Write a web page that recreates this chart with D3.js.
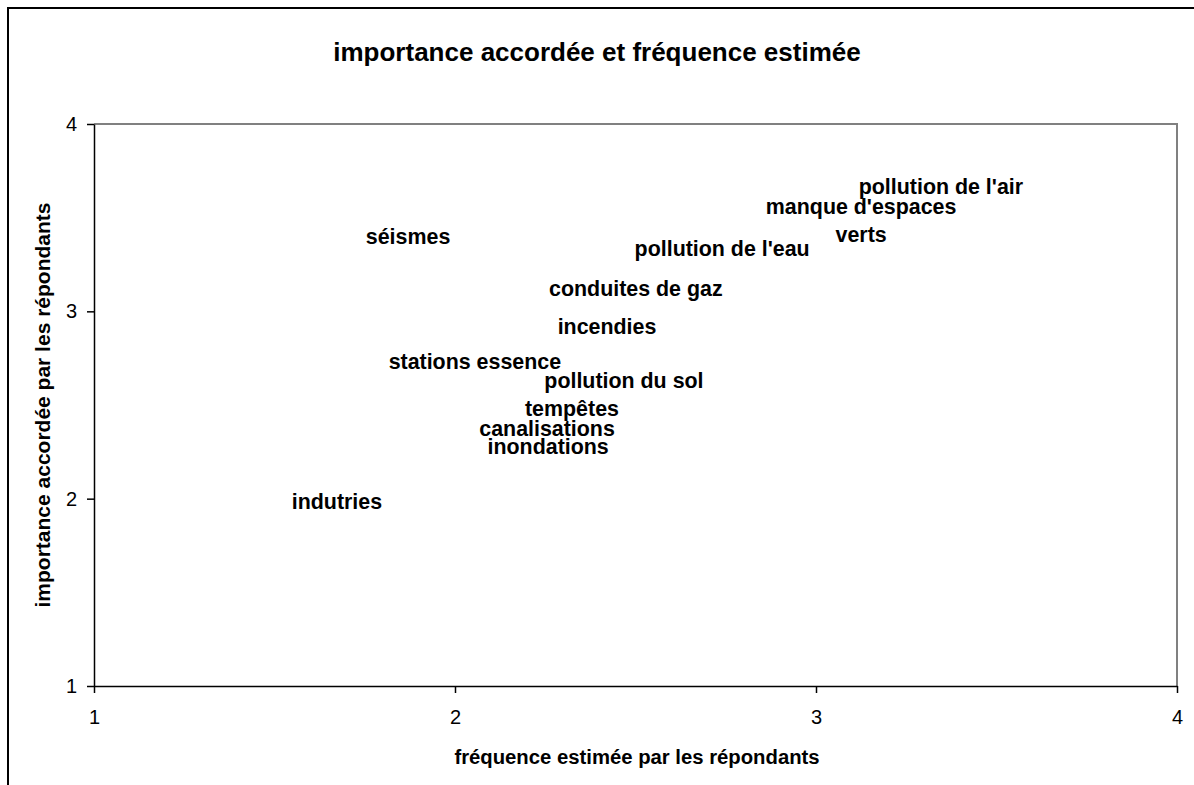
<!DOCTYPE html>
<html>
<head>
<meta charset="utf-8">
<script src="https://cdn.jsdelivr.net/npm/d3@7"></script>
<style>
  html, body { margin: 0; padding: 0; background: #fff; }
  svg { display: block; font-family: "Liberation Sans", Arial, sans-serif; }
</style>
</head>
<body>
<svg id="chart" width="1194" height="785"></svg>
<script>
// Risk labels with estimated frequency (x) and importance (y)
const risks = ["pollution de l'air", "manque d'espaces\nverts", "séismes", "pollution de l'eau",
  "conduites de gaz", "incendies", "stations essence", "pollution du sol",
  "tempêtes", "canalisations", "inondations", "indutries"];
const frequency = [3.346, 3.125, 1.870, 2.740, 2.501, 2.421, 2.055, 2.468, 2.324, 2.255, 2.258, 1.673];
const importance = [3.664, 3.482, 3.397, 3.333, 3.119, 2.916, 2.730, 2.628, 2.479, 2.372, 2.276, 1.982];
const xTicks = [1, 2, 3, 4];
const yTicks = [1, 2, 3, 4];

const chartTitle = "importance accordée et fréquence estimée";
const xTitle = "fréquence estimée par les répondants";
const yTitle = "importance accordée par les répondants";

const svg = d3.select("#chart");
const plot = { left: 94, right: 1177, top: 124, bottom: 686 };

const x = d3.scaleLinear().domain([1, 4]).range([plot.left, plot.right]);
const y = d3.scaleLinear().domain([1, 4]).range([plot.bottom, plot.top]);

// outer chart border (runs off the right and bottom edges)
svg.append("rect")
  .attr("x", 8).attr("y", 8).attr("width", 1210).attr("height", 800)
  .attr("fill", "none").attr("stroke", "#000").attr("stroke-width", 2);

// plot area frame: grey top and right edges
svg.append("path")
  .attr("d", `M${plot.left},${plot.top}H${plot.right}V${plot.bottom}`)
  .attr("fill", "none").attr("stroke", "#808080").attr("stroke-width", 2);

// axes
const xAxis = svg.append("g")
  .attr("transform", `translate(0,${plot.bottom})`)
  .call(d3.axisBottom(x).tickValues(xTicks).tickFormat(d3.format("d")).tickSize(7).tickSizeOuter(0).tickPadding(17));
const yAxis = svg.append("g")
  .attr("transform", `translate(${plot.left},0)`)
  .call(d3.axisLeft(y).tickValues(yTicks).tickFormat(d3.format("d")).tickSize(7).tickSizeOuter(0).tickPadding(10));

[xAxis, yAxis].forEach(g => {
  g.select(".domain").attr("stroke", "#000").attr("stroke-width", 1.5);
  g.selectAll(".tick line").attr("stroke", "#000").attr("stroke-width", 1.5);
  g.selectAll(".tick text")
    .attr("fill", "#000")
    .style("font-family", "'Liberation Sans', Arial, sans-serif")
    .style("font-size", "20px");
});

// title
svg.append("text")
  .attr("x", 597).attr("y", 61)
  .attr("text-anchor", "middle")
  .style("font-size", "26px").style("font-weight", "bold")
  .text(chartTitle);

// axis titles
svg.append("text")
  .attr("x", 637).attr("y", 764)
  .attr("text-anchor", "middle")
  .style("font-size", "20.3px").style("font-weight", "bold")
  .text(xTitle);

svg.append("text")
  .attr("transform", `translate(50,${(plot.top + plot.bottom) / 2}) rotate(-90)`)
  .attr("text-anchor", "middle")
  .style("font-size", "21px").style("font-weight", "bold")
  .text(yTitle);

// data labels, centred on each point
const labels = svg.append("g")
  .style("font-size", "21.4px").style("font-weight", "bold");

risks.forEach((name, i) => {
  const lines = name.split("\n");
  const lineGap = 28;
  const t = labels.append("text")
    .attr("x", x(frequency[i]))
    .attr("y", y(importance[i]))
    .attr("text-anchor", "middle")
    .attr("dominant-baseline", "central");
  lines.forEach((line, j) => {
    t.append("tspan")
      .attr("x", x(frequency[i]))
      .attr("y", y(importance[i]) + (j - (lines.length - 1) / 2) * lineGap)
      .text(line);
  });
});
</script>
</body>
</html>
